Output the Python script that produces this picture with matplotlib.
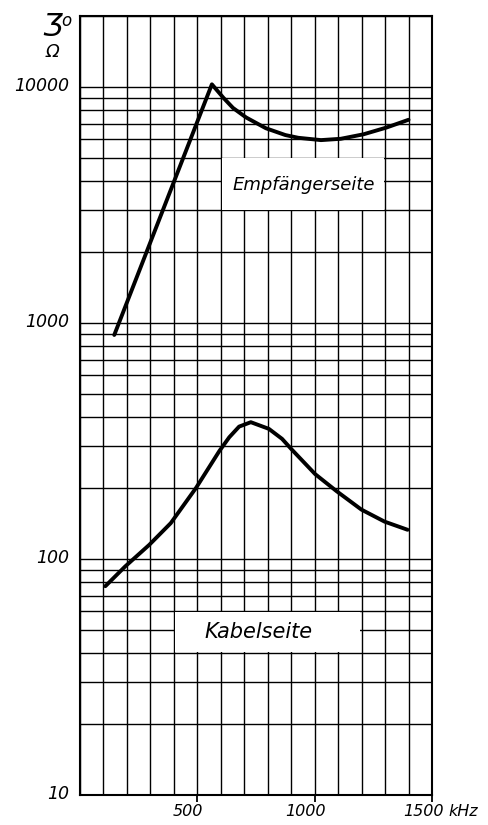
import matplotlib
matplotlib.use("Agg")
import matplotlib.pyplot as plt
from matplotlib.ticker import MultipleLocator, LogLocator, NullFormatter, FixedLocator
from matplotlib.patches import Rectangle
import matplotlib.transforms as mtransforms

# ---- data ----
recv_x = [146, 562, 611, 652, 708, 792, 875, 930, 1027, 1111, 1208, 1305, 1400]
recv_y = [890, 10270, 9005, 8155, 7430, 6690, 6260, 6095, 5958, 6035, 6305, 6730, 7265]

cable_x = [108, 192, 295, 387, 495, 594, 636, 678, 728, 805, 861, 901, 1002, 1093, 1199, 1298, 1396]
cable_y = [76.7, 92.9, 114.8, 142, 200.5, 287, 328, 364, 380, 356, 323, 292, 229, 194, 162, 144, 133]

y_ticks = [10, 100, 1000, 10000]
y_tick_labels = ["10", "100", "1000", "10000"]
x_ticks = [500, 1000, 1500]
x_tick_labels = ["500", "1000", "1500"]
recv_label = "Empfängerseite"
cable_label = "Kabelseite"

plt.rcParams['font.family'] = ['DejaVu Sans']

fig = plt.figure(figsize=(4.89, 8.25), dpi=100)
ax = fig.add_axes([80/489, 1 - 795/825, 352/489, 779/825])
ax.set_yscale('log')
ax.set_xlim(0, 1500)
ax.set_ylim(10, 20000)

# grid
ax.xaxis.set_minor_locator(MultipleLocator(100))
ax.yaxis.set_minor_locator(LogLocator(base=10, subs=range(2, 10)))
ax.yaxis.set_minor_formatter(NullFormatter())
ax.set_axisbelow(True)
ax.grid(which='both', axis='both', color='black', linewidth=1.0, zorder=0.5)

# white label boxes
ax.add_patch(Rectangle((606, 3020), 688, 1960, facecolor='white', edgecolor='none', zorder=1))
ax.add_patch(Rectangle((406, 40.4), 788, 19.2, facecolor='white', edgecolor='none', zorder=1))

# curves
ax.plot(recv_x, recv_y, color='black', linewidth=2.8, solid_capstyle='round',
        solid_joinstyle='round', zorder=3)
ax.plot(cable_x, cable_y, color='black', linewidth=2.8, solid_capstyle='round',
        solid_joinstyle='round', zorder=3)

ax.text(955, 3850, recv_label, ha='center', va='center', fontsize=13,
        style='italic', zorder=4)
ax.text(760, 49, cable_label, ha='center', va='center', fontsize=15,
        style='italic', zorder=4)

# ticks
ax.yaxis.set_major_locator(FixedLocator(y_ticks))
ax.set_yticklabels(y_tick_labels, fontsize=12.5, style='italic')
ax.tick_params(axis='y', which='both', length=0, pad=8)
ax.set_xticks(x_ticks)
ax.set_xticklabels(x_tick_labels, fontsize=11.5, style='italic')
ax.tick_params(axis='x', which='major', length=5, width=1.3, direction='out', pad=1.5)
ax.tick_params(axis='x', which='minor', length=0)
offset = mtransforms.ScaledTranslation(-9/100, 0, fig.dpi_scale_trans)
for lab in ax.get_xticklabels():
    lab.set_transform(lab.get_transform() + offset)
offy = mtransforms.ScaledTranslation(0, 3/100, fig.dpi_scale_trans)
for lab in ax.get_yticklabels():
    lab.set_transform(lab.get_transform() + offy)

for s in ax.spines.values():
    s.set_linewidth(1.5)
    s.set_zorder(2.5)

# units
fig.text(448/489, 1 - 812/825, "kHz", ha='left', va='center', fontsize=11.5, style='italic')
fig.text(52/489, 1 - 26/825, "Ʒ", ha='center', va='center', fontsize=22, style='italic')
fig.text(66/489, 1 - 21/825, "o", ha='center', va='center', fontsize=12, style='italic')
fig.text(52/489, 1 - 52/825, "Ω", ha='center', va='center', fontsize=13, style='italic')

fig.savefig("out.png", dpi=100)
